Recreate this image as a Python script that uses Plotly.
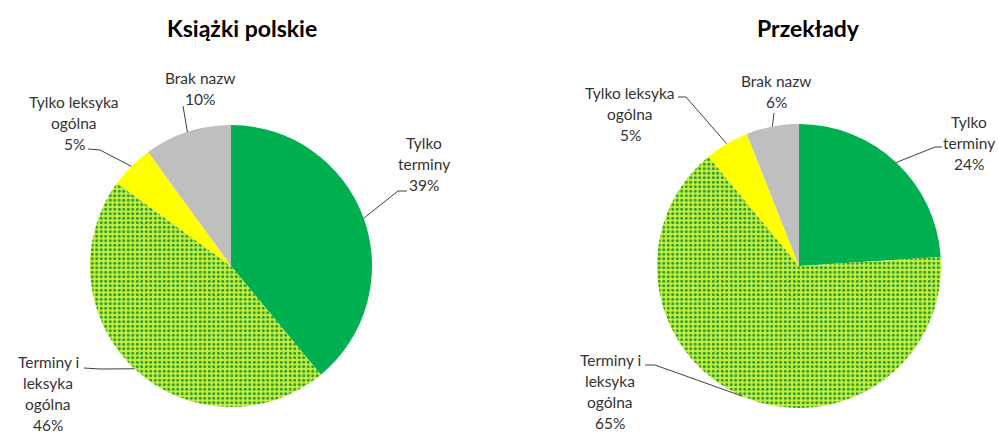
import math
import plotly.graph_objects as go

W, H = 998, 434

categories = ["Tylko terminy", "Terminy i leksyka ogólna", "Tylko leksyka ogólna", "Brak nazw"]
label_lines = [["Tylko", "terminy"], ["Terminy i", "leksyka", "ogólna"], ["Tylko leksyka", "ogólna"], ["Brak nazw"]]
titles = ["Książki polskie", "Przekłady"]
values_polskie = [39, 46, 5, 10]
values_przeklady = [24, 65, 5, 6]

colors = ["#00B050", "#C8F03C", "#FFFF00", "#BFBFBF"]
TEXT_COLOR = "#333333"
FONT = "Lato"

# pie geometry (pixels): center x, center y, radius
pies = [
    dict(cx=231, cy=266, r=141, values=values_polskie, title_x=242,
         labels=[
             dict(tx=424, ty=143, elbow=(398, 191), end=(407, 191)),
             dict(tx=48, ty=362, elbow=(100, 369), end=(84, 368)),
             dict(tx=74, ty=102, elbow=(100, 150), end=(88, 149)),
             dict(tx=200, ty=78, elbow=(183, 106), end=(183, 106)),
         ]),
    dict(cx=799, cy=266, r=142, values=values_przeklady, title_x=808,
         labels=[
             dict(tx=969, ty=122, elbow=(935, 147), end=(942, 147)),
             dict(tx=610, ty=360, elbow=(655, 365), end=(645, 365)),
             dict(tx=630, ty=93, elbow=(686, 97), end=(678, 97)),
             dict(tx=776, ty=81, elbow=(774, 113), end=(774, 113)),
         ]),
]

LINE_H = 21.0

def px(x):
    return x / W

def py(y):
    return 1 - y / H

fig = go.Figure()
annotations = []
shapes = []

for j, p in enumerate(pies):
    cx, cy, r = p["cx"], p["cy"], p["r"]
    fig.add_trace(go.Pie(
        labels=categories,
        values=p["values"],
        sort=False,
        direction="clockwise",
        rotation=0,
        textinfo="none",
        hoverinfo="label+percent",
        showlegend=False,
        marker=dict(
            colors=colors,
            line=dict(width=0),
            pattern=dict(
                shape=["", ".", "", ""],
                fgcolor="#2f9e34",
                bgcolor="#C8F03C",
                size=4.5,
                solidity=0.38,
                fillmode="replace",
            ),
        ),
        domain=dict(x=[px(cx - r), px(cx + r)], y=[py(cy + r), py(cy - r)]),
    ))
    annotations.append(dict(
        text="<b>" + titles[j] + "</b>", x=px(p["title_x"]), y=py(28),
        xref="paper", yref="paper", showarrow=False, xanchor="center", yanchor="middle",
        font=dict(family=FONT, size=23, color="#000000"),
    ))
    total = sum(p["values"])
    cum = 0
    for i, v in enumerate(p["values"]):
        mid = (cum + v / 2) / total * 2 * math.pi
        cum += v
        ax = cx + r * math.sin(mid)
        ay = cy - r * math.cos(mid)
        lab = p["labels"][i]
        lines = label_lines[i] + [f"{round(v / total * 100)}%"]
        for k, t in enumerate(lines):
            annotations.append(dict(
                text=t, x=px(lab["tx"]), y=py(lab["ty"] + k * LINE_H),
                xref="paper", yref="paper", showarrow=False,
                xanchor="center", yanchor="middle",
                font=dict(family=FONT, size=15.5, color=TEXT_COLOR),
            ))
        ex, ey = lab["elbow"]
        fx, fy = lab["end"]
        path = f"M {px(ax)} {py(ay)} L {px(ex)} {py(ey)} L {px(fx)} {py(fy)}"
        shapes.append(dict(type="path", path=path, xref="paper", yref="paper",
                           line=dict(color="#404040", width=1)))

fig.update_layout(
    width=W, height=H,
    margin=dict(l=0, r=0, t=0, b=0),
    paper_bgcolor="#FFFFFF",
    plot_bgcolor="#FFFFFF",
    annotations=annotations,
    shapes=shapes,
)

fig.write_html("out.html")
